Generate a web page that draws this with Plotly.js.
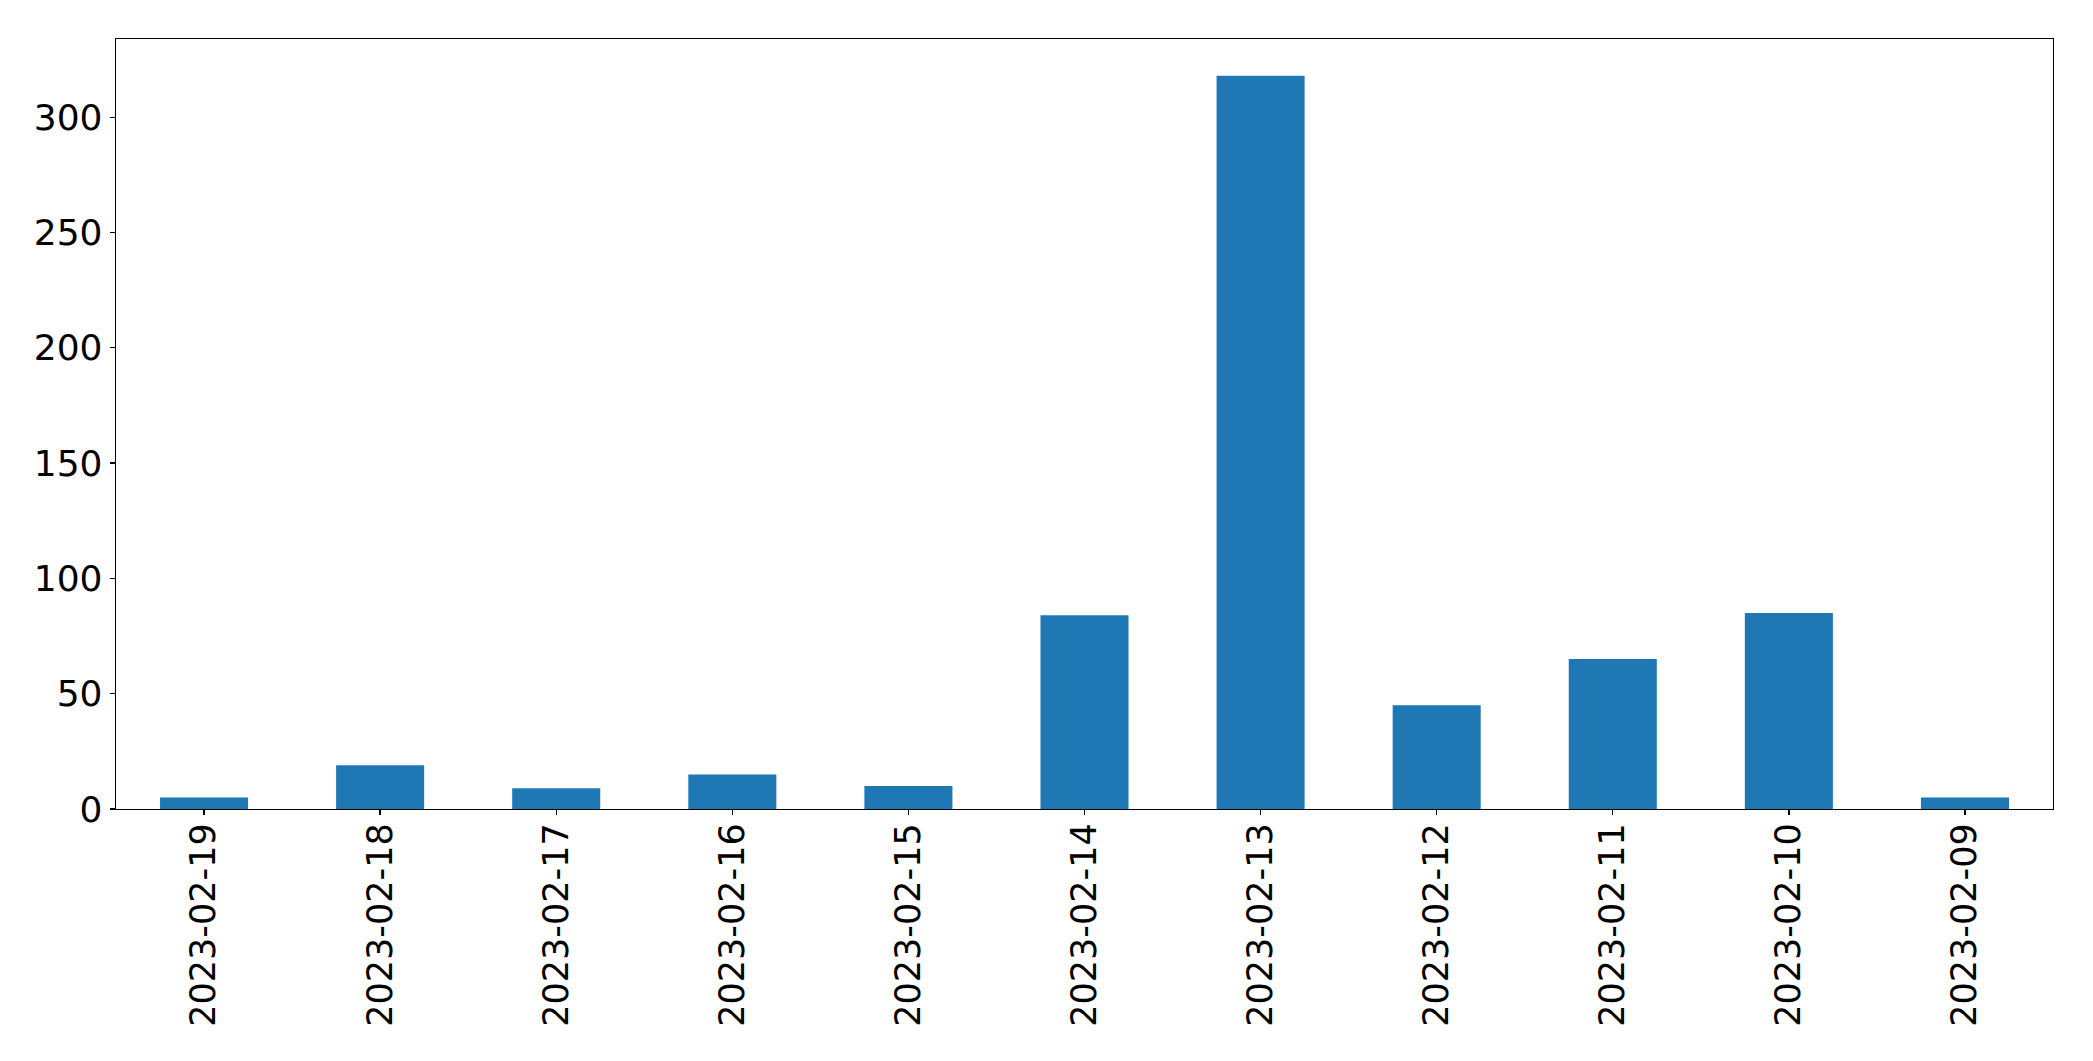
<!DOCTYPE html>
<html>
<head>
<meta charset="utf-8">
<script src="https://cdn.plot.ly/plotly-3.0.1.min.js"></script>
<style>html,body{margin:0;padding:0;background:#fff;}#chart{width:2093px;height:1061px;}</style>
</head>
<body>
<div id="chart"></div>
<script>
const dates = ["2023-02-19","2023-02-18","2023-02-17","2023-02-16","2023-02-15","2023-02-14","2023-02-13","2023-02-12","2023-02-11","2023-02-10","2023-02-09"];
const counts = [5, 19, 9, 15, 10, 84, 318, 45, 65, 85, 5];
const yTicks = [0, 50, 100, 150, 200, 250, 300];

const font = {family: "DejaVu Sans", size: 35, color: "#000"};
const trace = {
  type: "bar",
  x: dates,
  y: counts,
  width: 0.5,
  marker: {color: "#1f77b4", line: {width: 0}},
  hoverinfo: "x+y"
};
const layout = {
  width: 2093, height: 1061,
  margin: {l: 116, r: 40, t: 39, b: 252, pad: 0},
  paper_bgcolor: "#fff", plot_bgcolor: "#fff",
  showlegend: false,
  bargap: 0.5,
  font: font,
  xaxis: {
    type: "category",
    range: [-0.5, dates.length - 0.5],
    tickangle: -90,
    ticks: "outside", ticklen: 5, tickwidth: 1.3, tickcolor: "#000",
    ticklabelstandoff: -6,
    showline: true, linecolor: "#000", linewidth: 1.3, mirror: true,
    showgrid: false, zeroline: false,
    tickfont: font
  },
  yaxis: {
    range: [0, Math.max(...counts) * 1.05],
    tickmode: "array", tickvals: yTicks, ticktext: yTicks.map(String),
    ticks: "outside", ticklen: 5, tickwidth: 1.3, tickcolor: "#000",
    showline: true, linecolor: "#000", linewidth: 1.3, mirror: true,
    showgrid: false, zeroline: false,
    tickfont: {family: "DejaVu Sans", size: 36, color: "#000"}
  }
};
Plotly.newPlot("chart", [trace], layout, {displayModeBar: false, staticPlot: true});
</script>
</body>
</html>
